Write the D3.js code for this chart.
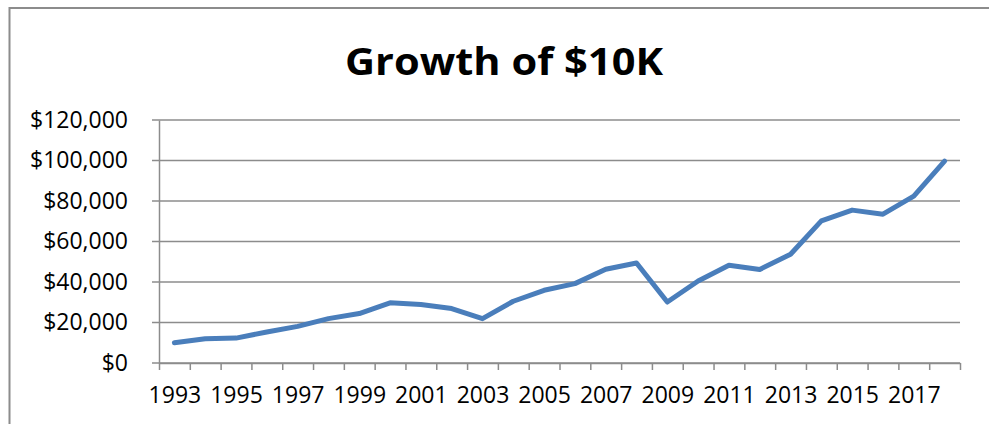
<!DOCTYPE html>
<html>
<head>
<meta charset="utf-8">
<script src="https://cdn.jsdelivr.net/npm/d3@7"></script>
<style>
  body { margin: 0; background: #fff; }
  svg { display: block; font-family: 'Open Sans', 'Noto Sans', sans-serif; }
</style>
</head>
<body>
<div id="chart"></div>
<script>
// growth of $10K, one value per year
const years = [1993, 1994, 1995, 1996, 1997, 1998, 1999, 2000, 2001, 2002, 2003, 2004, 2005,
  2006, 2007, 2008, 2009, 2010, 2011, 2012, 2013, 2014, 2015, 2016, 2017, 2018]
const values = [10000, 12000, 12300, 15300, 18100, 21900, 24400, 29700, 28900, 26900, 21900, 30500, 35900,
  39200, 46300, 49400, 30100, 40500, 48300, 46200, 53700, 70200, 75500, 73500, 82400, 99700]
const yTicks = [0, 20000, 40000, 60000, 80000, 100000, 120000]
const xLabels = [1993, 1995, 1997, 1999, 2001, 2003, 2005, 2007, 2009, 2011, 2013, 2015, 2017]

const width = 989
const height = 424
const plotLeft = 159
const plotRight = 960
const plotTop = 120
const plotBottom = 363
const gray = '#8c8c8c'

const svg = d3.select('#chart').append('svg')
  .attr('width', width)
  .attr('height', height)

// outer chart border, runs off the right and bottom of the picture
svg.append('rect')
  .attr('x', 9.5).attr('y', 8)
  .attr('width', 1000).attr('height', 440)
  .attr('fill', 'none')
  .attr('stroke', gray)
  .attr('stroke-width', 2)

svg.append('text')
  .text('Growth of $10K')
  .attr('x', 504)
  .attr('y', 75)
  .attr('text-anchor', 'middle')
  .attr('font-size', 37)
  .attr('font-weight', 'bold')
  .attr('fill', '#000')
  .attr('textLength', 318)
  .attr('lengthAdjust', 'spacingAndGlyphs')

const x = d3.scaleLinear()
  .domain([years[0] - 0.5, years[years.length - 1] + 0.5])
  .range([plotLeft, plotRight])
const y = d3.scaleLinear()
  .domain([0, 120000])
  .range([plotBottom, plotTop])

function labelStyle (sel) {
  sel.attr('font-size', 23)
    .attr('fill', '#000')
    .attr('font-family', "'Open Sans', sans-serif")
}

// horizontal gridlines
svg.append('g')
  .selectAll('line')
  .data(yTicks)
  .enter()
  .append('line')
  .attr('x1', plotLeft - 7)
  .attr('x2', plotRight)
  .attr('y1', d => y(d))
  .attr('y2', d => y(d))
  .attr('stroke', gray)
  .attr('stroke-width', 1.5)

// y axis
const yAxis = svg.append('g')
  .attr('transform', `translate(${plotLeft},0)`)
  .call(d3.axisLeft(y)
    .tickValues(yTicks)
    .tickSize(0)
    .tickPadding(31)
    .tickFormat(d => '$' + d3.format(',')(d)))
yAxis.select('.domain')
  .attr('stroke', gray)
  .attr('stroke-width', 1.5)
yAxis.selectAll('text').call(labelStyle)

// x axis ticks at category boundaries
const tickPos = years.map(d => d - 0.5).concat([years[years.length - 1] + 0.5])
const xAxis = svg.append('g')
  .attr('transform', `translate(0,${plotBottom})`)
  .call(d3.axisBottom(x)
    .tickValues(tickPos)
    .tickSize(7)
    .tickSizeOuter(0)
    .tickFormat(''))
xAxis.select('.domain')
  .attr('stroke', gray)
  .attr('stroke-width', 1.5)
xAxis.selectAll('.tick line')
  .attr('stroke', gray)
  .attr('stroke-width', 1.5)

// year labels, every other year
const xLab = svg.append('g')
  .attr('transform', `translate(0,${plotBottom})`)
  .call(d3.axisBottom(x)
    .tickValues(xLabels)
    .tickSize(0)
    .tickPadding(24)
    .tickFormat(d3.format('d')))
xLab.select('.domain').remove()
xLab.selectAll('text').call(labelStyle)

const line = d3.line()
  .x((d, i) => x(years[i]))
  .y(d => y(d))

svg.append('path')
  .datum(values)
  .attr('d', line)
  .attr('fill', 'none')
  .attr('stroke', '#4a7ebb')
  .attr('stroke-width', 5)
  .attr('stroke-linejoin', 'round')
  .attr('stroke-linecap', 'round')
</script>
</body>
</html>
